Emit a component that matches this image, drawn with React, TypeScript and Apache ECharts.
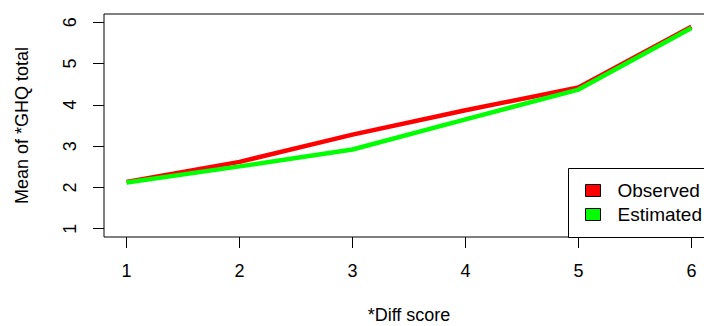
import React, { useEffect, useRef } from "react";
import * as echarts from "echarts";

const diffScores = [1, 2, 3, 4, 5, 6];
const observed = [2.13, 2.62, 3.28, 3.87, 4.42, 5.89];
const estimated = [2.12, 2.51, 2.92, 3.65, 4.37, 5.86];
const xTicks = [1, 2, 3, 4, 5, 6];
const yTicks = [1, 2, 3, 4, 5, 6];
const seriesNames = ["Observed", "Estimated"];
const seriesColors = ["#FF0000", "#00FF00"];

const FONT = "Liberation Sans, Arial, sans-serif";

export default function App() {
  const ref = useRef<HTMLDivElement>(null);
  useEffect(() => {
    if (!ref.current) return;
    const chart = echarts.init(ref.current, undefined, { renderer: "svg" });
    const mk = (vals: number[]) => diffScores.map((x, i) => [x, vals[i]]);
    chart.setOption({
      animation: false,
      backgroundColor: "#fff",
      textStyle: { fontFamily: FONT },
      grid: {
        left: 104,
        top: 14,
        width: 610,
        height: 223,
        containLabel: false,
        outerBoundsMode: "none",
        show: true,
        borderColor: "#000",
        borderWidth: 1,
        backgroundColor: "transparent",
      },
      xAxis: {
        type: "value",
        min: 0.8,
        max: 6.2,
        name: "*Diff score",
        nameLocation: "middle",
        nameGap: 69,
        nameTextStyle: { fontSize: 18, color: "#000", fontFamily: FONT },
        axisLine: { show: false },
        splitLine: { show: false },
        axisTick: {
          show: true,
          length: 11,
          customValues: xTicks,
          lineStyle: { color: "#000", width: 1 },
        },
        axisLabel: {
          customValues: xTicks,
          fontSize: 18,
          color: "#000",
          margin: 25,
          fontFamily: FONT,
        },
      },
      yAxis: {
        type: "value",
        min: 0.8,
        max: 6.2,
        name: "Mean of *GHQ total",
        nameLocation: "middle",
        nameGap: 73,
        nameRotate: 90,
        nameTextStyle: { fontSize: 18, color: "#000", fontFamily: FONT },
        axisLine: { show: false },
        splitLine: { show: false },
        axisTick: {
          show: true,
          length: 11,
          customValues: yTicks,
          lineStyle: { color: "#000", width: 1 },
        },
        axisLabel: {
          customValues: yTicks,
          fontSize: 18,
          color: "#000",
          margin: 25,
          rotate: 90,
          fontFamily: FONT,
        },
      },
      legend: {
        show: true,
        orient: "vertical",
        left: 585,
        top: 181,
        padding: 0,
        itemWidth: 15,
        itemHeight: 12,
        itemGap: 5,
        z: 10,
        selectedMode: false,
        textStyle: {
          fontSize: 19,
          lineHeight: 19,
          color: "#000",
          fontFamily: FONT,
          padding: [0, 0, 0, 12],
        },
        data: seriesNames.map((n, i) => ({
          name: n,
          icon: "rect",
          itemStyle: { color: seriesColors[i], borderColor: "#000", borderWidth: 1 },
        })),
      },
      graphic: [
        {
          type: "rect",
          z: 5,
          shape: { x: 568.5, y: 168.5, width: 200, height: 69 },
          style: { fill: "#fff", stroke: "#000", lineWidth: 1 },
        },
      ],
      series: seriesNames.map((n, i) => ({
        name: n,
        type: "line",
        data: mk(i === 0 ? observed : estimated),
        showSymbol: false,
        symbol: "none",
        lineStyle: { color: seriesColors[i], width: 4.5 },
        itemStyle: { color: seriesColors[i] },
      })),
    });
    return () => chart.dispose();
  }, []);
  return (
    <div style={{ position: "fixed", left: 0, top: 0, width: 704, height: 326, overflow: "hidden" }}>
      <div ref={ref} style={{ width: 704, height: 326 }} />
    </div>
  );
}
